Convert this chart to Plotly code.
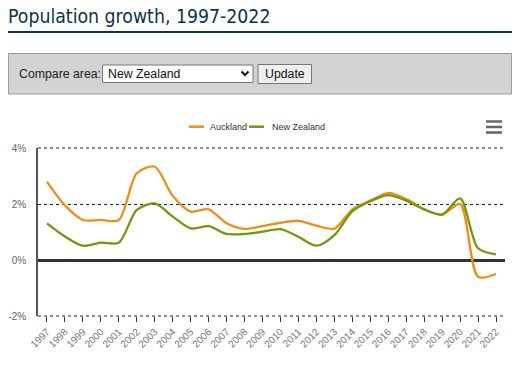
import plotly.graph_objects as go

years = [str(y) for y in range(1997, 2023)]
auckland = [2.8, 1.95, 1.43, 1.43, 1.43, 3.1, 3.33, 2.29, 1.73, 1.81, 1.31, 1.11, 1.21,
            1.33, 1.4, 1.23, 1.12, 1.81, 2.12, 2.4, 2.18, 1.81, 1.62, 2.0, -0.6, -0.5]
new_zealand = [1.31, 0.84, 0.51, 0.62, 0.62, 1.79, 2.02, 1.55, 1.13, 1.21, 0.93, 0.93, 1.01,
               1.1, 0.83, 0.51, 0.89, 1.74, 2.1, 2.32, 2.12, 1.81, 1.62, 2.2, 0.42, 0.2]
y_ticks = [-2, 0, 2, 4]
y_tick_labels = ["-2%", "0%", "2%", "4%"]

ORANGE = "#f28c18"
GREEN = "#6f9a0d"
NAVY = "#0b3447"
BASE_FONT = "Liberation Sans, Arial, sans-serif"

W, H = 519, 365
L, R, T, B = 38, 505, 148, 316


def px(x):
    return (x - L) / (R - L)


def py(y):
    return (B - y) / (B - T)


fig = go.Figure()
fig.add_trace(go.Scatter(x=years, y=auckland, name="Auckland", mode="lines",
                         line=dict(color=ORANGE, width=2.3, shape="spline", smoothing=0.8)))
fig.add_trace(go.Scatter(x=years, y=new_zealand, name="New Zealand", mode="lines",
                         line=dict(color=GREEN, width=2.3, shape="spline", smoothing=0.8)))

shapes = []
annotations = []

# Title underline
shapes.append(dict(type="rect", xref="paper", yref="paper", x0=px(8), x1=px(512), y0=py(33), y1=py(31),
                   fillcolor=NAVY, line=dict(width=0), layer="above"))
# Grey compare box
shapes.append(dict(type="rect", xref="paper", yref="paper", x0=px(8.5), x1=px(511.5), y0=py(94), y1=py(53.5),
                   fillcolor="#d3d3d3", line=dict(color="#9b9b9b", width=1), layer="below"))
# Select box
shapes.append(dict(type="rect", xref="paper", yref="paper", x0=px(102.5), x1=px(253), y0=py(82.5), y1=py(65),
                   fillcolor="#ffffff", line=dict(color="#767676", width=1), layer="below"))
# Chevron
shapes.append(dict(type="path", xref="paper", yref="paper",
                   path=f"M {px(241.5)},{py(71.5)} L {px(245)},{py(75)} L {px(248.5)},{py(71.5)}",
                   line=dict(color="#111111", width=2), layer="above"))
# Update button
shapes.append(dict(type="rect", xref="paper", yref="paper", x0=px(258), x1=px(311.5), y0=py(83.5), y1=py(64.5),
                   fillcolor="#efefef", line=dict(color="#767676", width=1), layer="below"))
# Hamburger menu
for yy in (121.5, 127, 132.5):
    shapes.append(dict(type="line", xref="paper", yref="paper", x0=px(486), x1=px(502), y0=py(yy), y1=py(yy),
                       line=dict(color="#666666", width=2.5)))
# Dotted lines at the top (4%) and bottom (-2%) of the plot area
for yy in (0, 1):
    shapes.append(dict(type="line", xref="paper", yref="paper", x0=0, x1=1, y0=yy, y1=yy,
                       line=dict(color="#222222", width=1, dash="dot"), layer="below"))
# Legend symbols
shapes.append(dict(type="line", xref="paper", yref="paper", x0=px(189), x1=px(204), y0=py(126.7), y1=py(126.7),
                   line=dict(color=ORANGE, width=2.5)))
shapes.append(dict(type="line", xref="paper", yref="paper", x0=px(249), x1=px(264), y0=py(126.7), y1=py(126.7),
                   line=dict(color=GREEN, width=2.5)))

annotations.append(dict(text="Population growth, 1997-2022", xref="paper", yref="paper",
                        x=px(6), y=py(16.5), xanchor="left", yanchor="middle", showarrow=False,
                        font=dict(family="DejaVu Sans Condensed, Liberation Sans Narrow, sans-serif",
                                  size=19.3, color=NAVY)))
annotations.append(dict(text="Compare area:", xref="paper", yref="paper", x=px(17), y=py(73.5),
                        xanchor="left", yanchor="middle", showarrow=False,
                        font=dict(family=BASE_FONT, size=12.3, color="#222222")))
annotations.append(dict(text="New Zealand", xref="paper", yref="paper", x=px(106), y=py(73.5),
                        xanchor="left", yanchor="middle", showarrow=False,
                        font=dict(family=BASE_FONT, size=12.3, color="#111111")))
annotations.append(dict(text="Update", xref="paper", yref="paper", x=px(284.8), y=py(73.8),
                        xanchor="center", yanchor="middle", showarrow=False,
                        font=dict(family=BASE_FONT, size=12.3, color="#111111")))
# Legend texts
annotations.append(dict(text="Auckland", xref="paper", yref="paper", x=px(208), y=py(126.7),
                        xanchor="left", yanchor="middle", showarrow=False,
                        font=dict(family=BASE_FONT, size=9, color="#333333")))
annotations.append(dict(text="New Zealand", xref="paper", yref="paper", x=px(269.5), y=py(126.7),
                        xanchor="left", yanchor="middle", showarrow=False,
                        font=dict(family=BASE_FONT, size=9, color="#333333")))

fig.update_layout(
    width=W, height=H,
    margin=dict(l=L, r=W - R, t=T, b=H - B, pad=0, autoexpand=False),
    paper_bgcolor="white", plot_bgcolor="white",
    font=dict(family=BASE_FONT, color="#666666", size=11),
    showlegend=False,
    shapes=shapes, annotations=annotations,
    xaxis=dict(type="category", range=[-0.5, 25.5], showgrid=False, showline=False, zeroline=False,
               automargin=False,
               ticks="outside", ticklen=5, tickcolor="#333333", tickwidth=1.3,
               tickangle=-45, tickfont=dict(size=10, color="#707888"), fixedrange=True),
    yaxis=dict(range=[-2, 4], tickvals=y_ticks, ticktext=y_tick_labels, showgrid=True, gridcolor="#222222",
               automargin=False,
               griddash="dot", gridwidth=1, zeroline=True, zerolinecolor="#333333", zerolinewidth=2.5,
               showline=True, linecolor="#555555", linewidth=1.5, ticks="", ticklabelstandoff=8,
               tickfont=dict(size=10, color="#666666"), fixedrange=True),
)

fig.write_html("out.html", post_script="document.body.style.margin='0px';",
               config={"displayModeBar": False})
